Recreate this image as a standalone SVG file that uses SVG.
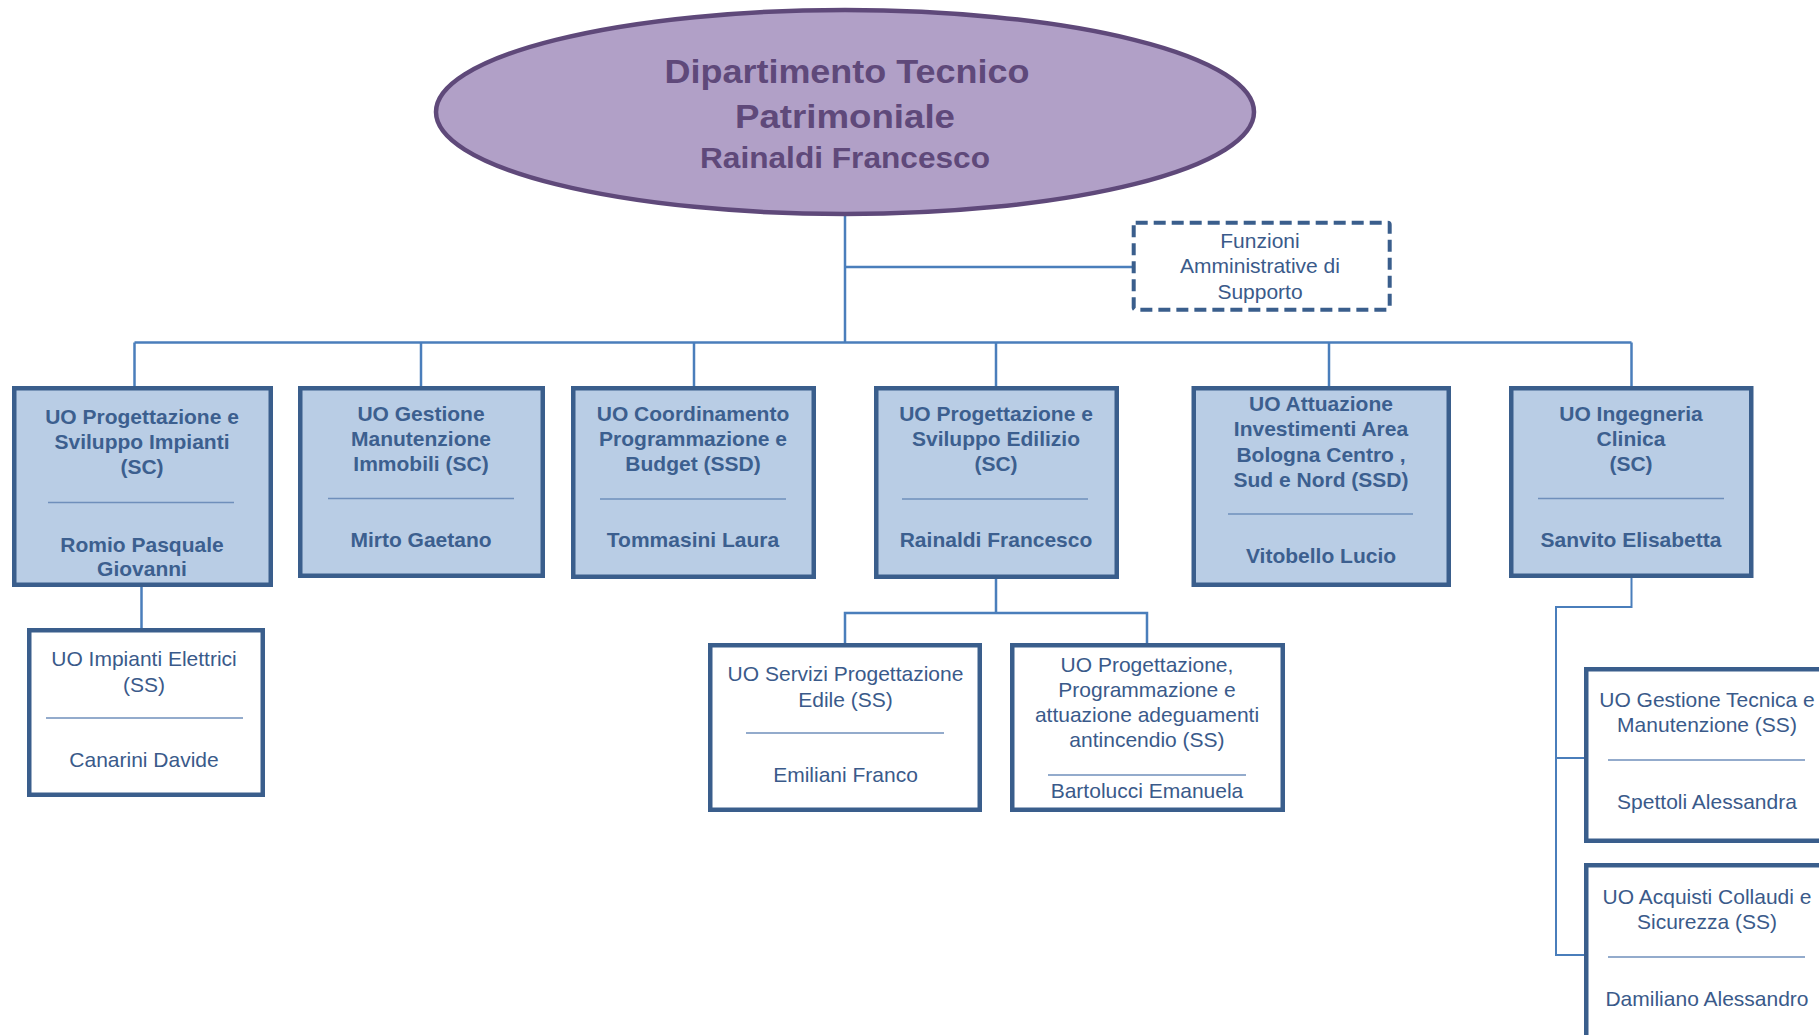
<svg xmlns="http://www.w3.org/2000/svg" width="1819" height="1035" viewBox="0 0 1819 1035">
<style>
.bg{fill:#ffffff}
.conn{stroke:#4a7ebb;stroke-width:2.5;fill:none}
.conn2{stroke:#4a7ebb;stroke-width:2;fill:none}
.top{fill:#b9cde5;stroke:#3a5e8c;stroke-width:4.5}
.sub{fill:#ffffff;stroke:#3a5e8c;stroke-width:4.5}
.dash{fill:#ffffff;stroke:#3a5e8c;stroke-width:4;stroke-dasharray:12 6}
.sep{stroke:#6f8fbb;stroke-width:1.3}
.b{font-family:"Liberation Sans",Arial,sans-serif;font-weight:bold;font-size:21px;fill:#3c5f8f;text-anchor:middle}
.r{font-family:"Liberation Sans",Arial,sans-serif;font-size:21px;fill:#3a5a8a;text-anchor:middle}
.e{font-family:"Liberation Sans",Arial,sans-serif;font-weight:bold;fill:#5f497a;text-anchor:middle}
</style>
<rect class="bg" x="0" y="0" width="1819" height="1035"/>

<g id="connectors">
<path class="conn" d="M845,216 V342.5"/>
<path class="conn" d="M845,267 H1132"/>
<path class="conn" d="M134.5,342.5 H1631.5"/>
<path class="conn" d="M134.5,342.5 V386"/>
<path class="conn" d="M421,342.5 V386"/>
<path class="conn" d="M694,342.5 V386"/>
<path class="conn" d="M996,342.5 V386"/>
<path class="conn" d="M1329,342.5 V386"/>
<path class="conn" d="M1631.5,342.5 V386"/>
<path class="conn" d="M141.5,587 V628"/>
<path class="conn" d="M996,579 V613 M845,643 V613 H1147 V643"/>
<path class="conn2" d="M1631.5,578 V607 H1556 V955 H1584 M1556,758 H1584"/>
</g>

<g id="n-dipartimento">
<ellipse cx="845" cy="112" rx="409" ry="102" fill="#b1a0c7" stroke="#5f497a" stroke-width="4.5"/>
<text class="e" x="847" y="83" font-size="34" textLength="365" lengthAdjust="spacingAndGlyphs">Dipartimento Tecnico</text>
<text class="e" x="845" y="128" font-size="34" textLength="220" lengthAdjust="spacingAndGlyphs">Patrimoniale</text>
<text class="e" x="845" y="168" font-size="30" textLength="290" lengthAdjust="spacingAndGlyphs">Rainaldi Francesco</text>
</g>

<g id="n-funzioni">
<rect class="dash" x="1133.7" y="222.7" width="256" height="87" rx="2"/>
<text class="r" x="1260" y="248">Funzioni</text>
<text class="r" x="1260" y="273">Amministrative di</text>
<text class="r" x="1260" y="298.5">Supporto</text>
</g>

<g id="n-impianti">
<rect class="top" x="14.25" y="388.25" width="256.5" height="196.5"/>
<text class="b" x="142" y="424">UO Progettazione e</text>
<text class="b" x="142" y="449">Sviluppo Impianti</text>
<text class="b" x="142" y="474">(SC)</text>
<line class="sep" x1="48" y1="502.5" x2="234" y2="502.5"/>
<text class="b" x="142" y="552">Romio Pasquale</text>
<text class="b" x="142" y="576">Giovanni</text>
</g>

<g id="n-manutenzione">
<rect class="top" x="300.25" y="388.25" width="242.5" height="187.5"/>
<text class="b" x="421" y="420.5">UO Gestione</text>
<text class="b" x="421" y="445.5">Manutenzione</text>
<text class="b" x="421" y="470.5">Immobili (SC)</text>
<line class="sep" x1="328" y1="498.5" x2="514" y2="498.5"/>
<text class="b" x="421" y="547">Mirto Gaetano</text>
</g>

<g id="n-coordinamento">
<rect class="top" x="573.25" y="388.25" width="240.5" height="188.5"/>
<text class="b" x="693" y="420.5">UO Coordinamento</text>
<text class="b" x="693" y="445.5">Programmazione e</text>
<text class="b" x="693" y="470.5">Budget (SSD)</text>
<line class="sep" x1="600" y1="499" x2="786" y2="499"/>
<text class="b" x="693" y="547">Tommasini Laura</text>
</g>

<g id="n-edilizio">
<rect class="top" x="876.25" y="388.25" width="240.5" height="188.5"/>
<text class="b" x="996" y="420.5">UO Progettazione e</text>
<text class="b" x="996" y="445.5">Sviluppo Edilizio</text>
<text class="b" x="996" y="470.5">(SC)</text>
<line class="sep" x1="902" y1="499" x2="1088" y2="499"/>
<text class="b" x="996" y="547">Rainaldi Francesco</text>
</g>

<g id="n-attuazione">
<rect class="top" x="1193.75" y="388.25" width="255" height="196.5"/>
<text class="b" x="1321" y="411">UO Attuazione</text>
<text class="b" x="1321" y="436">Investimenti Area</text>
<text class="b" x="1321" y="461.5">Bologna Centro ,</text>
<text class="b" x="1321" y="487">Sud e Nord  (SSD)</text>
<line class="sep" x1="1228" y1="514" x2="1413" y2="514"/>
<text class="b" x="1321" y="563">Vitobello Lucio</text>
</g>

<g id="n-ingegneria">
<rect class="top" x="1511.25" y="388.25" width="240" height="187.5"/>
<text class="b" x="1631" y="420.5">UO Ingegneria</text>
<text class="b" x="1631" y="445.5">Clinica</text>
<text class="b" x="1631" y="470.5">(SC)</text>
<line class="sep" x1="1538" y1="498.5" x2="1724" y2="498.5"/>
<text class="b" x="1631" y="547">Sanvito Elisabetta</text>
</g>

<g id="n-elettrici">
<rect class="sub" x="29.25" y="630.25" width="233.5" height="164.5"/>
<text class="r" x="144" y="666">UO Impianti Elettrici</text>
<text class="r" x="144" y="692">(SS)</text>
<line class="sep" x1="46" y1="718" x2="243" y2="718"/>
<text class="r" x="144" y="767">Canarini Davide</text>
</g>

<g id="n-servizi">
<rect class="sub" x="710.25" y="645.25" width="269.5" height="164.5"/>
<text class="r" x="845.5" y="681">UO Servizi Progettazione</text>
<text class="r" x="845.5" y="707">Edile (SS)</text>
<line class="sep" x1="746" y1="733" x2="944" y2="733"/>
<text class="r" x="845.5" y="782">Emiliani Franco</text>
</g>

<g id="n-antincendio">
<rect class="sub" x="1012.25" y="645.25" width="270.5" height="164.5"/>
<text class="r" x="1147" y="672">UO  Progettazione,</text>
<text class="r" x="1147" y="697">Programmazione  e</text>
<text class="r" x="1147" y="722">attuazione  adeguamenti</text>
<text class="r" x="1147" y="747">antincendio  (SS)</text>
<line class="sep" x1="1048" y1="775" x2="1246" y2="775"/>
<text class="r" x="1147" y="798">Bartolucci Emanuela</text>
</g>

<g id="n-gestione-tecnica">
<rect class="sub" x="1586.25" y="669.25" width="246" height="171.5"/>
<text class="r" x="1707" y="707">UO Gestione Tecnica e</text>
<text class="r" x="1707" y="732">Manutenzione (SS)</text>
<line class="sep" x1="1608" y1="760" x2="1805" y2="760"/>
<text class="r" x="1707" y="809">Spettoli Alessandra</text>
</g>

<g id="n-acquisti">
<rect class="sub" x="1586.25" y="865.25" width="246" height="190"/>
<text class="r" x="1707" y="904">UO Acquisti Collaudi e</text>
<text class="r" x="1707" y="929">Sicurezza (SS)</text>
<line class="sep" x1="1608" y1="957" x2="1805" y2="957"/>
<text class="r" x="1707" y="1006">Damiliano Alessandro</text>
</g>
</svg>
